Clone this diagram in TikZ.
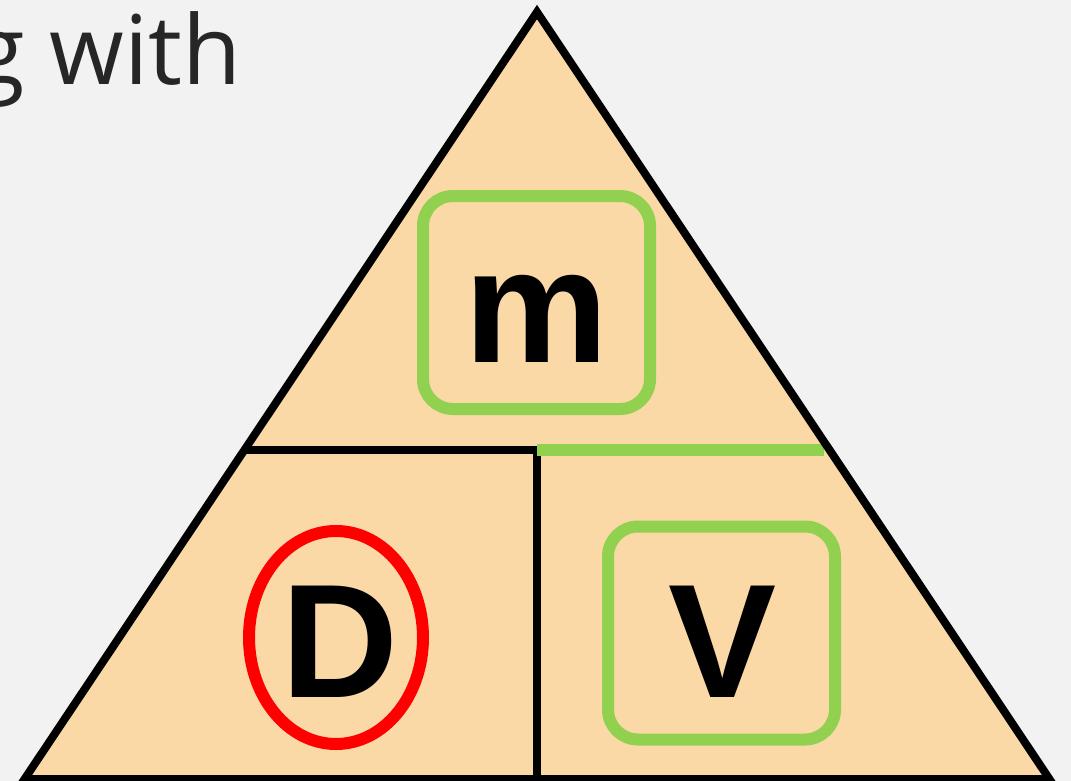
\documentclass[tikz,border=0pt]{standalone}
\usepackage{fontspec}
\setmainfont{Open Sans}
\newfontfamily\lettersf{Liberation Sans}
\definecolor{bgc}{HTML}{F2F2F2}
\definecolor{peach}{HTML}{FAD9A7}
\definecolor{okgreen}{HTML}{92D050}
\definecolor{darktext}{HTML}{262626}
\tikzset{
  edgeline/.style={draw=black, line width=8pt},
  greenbox/.style={draw=okgreen, line width=12pt, rounded corners=30pt, minimum width=227pt, minimum height=213pt, inner sep=0pt},
  redring/.style={draw=red, line width=12pt, ellipse, minimum width=174pt, minimum height=213pt, inner sep=0pt},
  bigletter/.style={font=\lettersf\bfseries\fontsize{162}{162}\selectfont, text=black, inner sep=0pt, anchor=base},
}
\usetikzlibrary{shapes.geometric}
\begin{document}
\begin{tikzpicture}[x=1pt,y=-1pt]
\useasboundingbox (0,0) rectangle (1071,781);
\clip (0,0) rectangle (1071,781);
\fill[bgc] (0,0) rectangle (1071,781);
\node[font=\fontsize{96}{96}\selectfont, text=darktext, anchor=base east, inner sep=0pt] (title) at (242,85) {g with};
\coordinate (apex) at (537,12);
\coordinate (bl) at (24.6,779);
\coordinate (br) at (1049.4,779);
\coordinate (ml) at (244,450);
\coordinate (mc) at (537,450);
\coordinate (mr) at (824,450);
\coordinate (bc) at (537,779);
\fill[peach] (apex) -- (bl) -- (br) -- cycle;
\draw[edgeline] (ml) -- (mc);
\draw[edgeline] (mc) -- (bc);
\draw[line width=12pt, okgreen] (mc) -- (mr);
\draw[edgeline, line join=miter] (apex) -- (bl) -- (br) -- cycle;
\node[greenbox] (mbox) at (536.5,302.5) {};
\node[greenbox] (vbox) at (721.5,633) {};
\node[redring] (dring) at (336,637.5) {};
\node[bigletter] (m) at (537,362) {m};
\node[bigletter] (D) at (340,697) {D};
\node[bigletter] (V) at (723,697) {V};
\end{tikzpicture}
\end{document}
